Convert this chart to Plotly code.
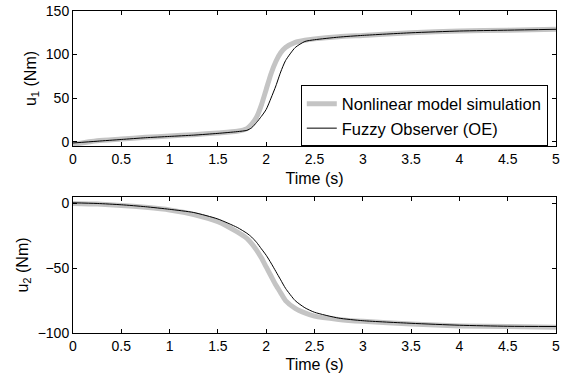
import plotly.graph_objects as go
from plotly.subplots import make_subplots

# Time samples (s)
time_s = [0, 0.25, 0.5, 0.75, 1.0, 1.25, 1.5, 1.7, 1.8, 1.85, 1.9, 1.95, 2.0,
          2.05, 2.1, 2.15, 2.2, 2.3, 2.4, 2.5, 2.75, 3.0, 3.5, 4.0, 4.5, 5.0]

# u1 (Nm)
u1_nonlinear = [-3, 1, 3, 5, 6.5, 8, 10, 12, 15, 20, 28, 42, 60,
                78, 92, 102, 108, 114, 116.5, 118, 120.5, 122, 125, 127, 128, 129]
u1_observer = [-1.5, 0.5, 2.5, 4.5, 6, 7.5, 9.5, 11.5, 13, 16, 22, 29, 37,
               50, 64, 80, 93, 108, 115, 117, 120, 122, 125, 127, 128, 129]

# u2 (Nm)
u2_nonlinear = [0, -0.5, -1.5, -3, -5, -8.5, -14, -22, -27, -31, -36, -42, -49,
                -56, -63, -69, -75, -81, -84.5, -87, -89.5, -91, -93, -94.5, -95, -95.5]
u2_observer = [0.5, 0, -1, -2.5, -4.5, -7, -12, -18.5, -23, -26, -30, -35, -40,
               -46, -52.5, -59, -65.5, -75, -80.5, -84, -88.5, -90.5, -92.5, -94, -94.8, -95]

x_ticks = [0, 0.5, 1, 1.5, 2, 2.5, 3, 3.5, 4, 4.5, 5]
x_ticklabels = ["0", "0.5", "1", "1.5", "2", "2.5", "3", "3.5", "4", "4.5", "5"]
u1_ticks = [0, 50, 100, 150]
u2_ticks = [-100, -50, 0]

names = ["Nonlinear model simulation", "Fuzzy Observer (OE)"]

FONT = "Liberation Sans, Arial, sans-serif"
GRAY = "#c4c4c4"

fig = make_subplots(rows=2, cols=1)

fig.add_trace(go.Scatter(x=time_s, y=u1_nonlinear, mode="lines", name=names[0],
                         line=dict(color=GRAY, width=5, shape="spline", smoothing=0.6)),
              row=1, col=1)
fig.add_trace(go.Scatter(x=time_s, y=u1_observer, mode="lines", name=names[1],
                         line=dict(color="#000000", width=1, shape="spline", smoothing=0.6)),
              row=1, col=1)
fig.add_trace(go.Scatter(x=time_s, y=u2_nonlinear, mode="lines", showlegend=False,
                         line=dict(color=GRAY, width=5, shape="spline", smoothing=0.6)),
              row=2, col=1)
fig.add_trace(go.Scatter(x=time_s, y=u2_observer, mode="lines", showlegend=False,
                         line=dict(color="#000000", width=1, shape="spline", smoothing=0.6)),
              row=2, col=1)

axis_common = dict(showline=True, linecolor="black", linewidth=1, mirror="ticks",
                   ticks="inside", ticklen=4, tickcolor="black", showgrid=False,
                   zeroline=False, automargin=False, ticklabeloverflow="allow",
                   tickfont=dict(family=FONT, size=14, color="black"))

for r in (1, 2):
    fig.update_xaxes(range=[0, 5.0001], tickvals=x_ticks, ticktext=x_ticklabels,
                     title=dict(text="Time (s)", font=dict(family=FONT, size=16, color="black"),
                                standoff=6),
                     row=r, col=1, **axis_common)

fig.update_yaxes(range=[-5, 150], tickvals=u1_ticks,
                 title=dict(text="u<sub>1</sub> (Nm)", font=dict(family=FONT, size=16, color="black"),
                            standoff=5),
                 row=1, col=1, **axis_common)
fig.update_yaxes(range=[-100, 5], tickvals=u2_ticks,
                 title=dict(text="u<sub>2</sub> (Nm)", font=dict(family=FONT, size=16, color="black"),
                            standoff=5),
                 row=2, col=1, **axis_common)

fig.update_layout(
    width=563, height=385,
    margin=dict(l=73, r=7, t=11, b=52),
    paper_bgcolor="white", plot_bgcolor="white",
    xaxis=dict(domain=[0, 1]), xaxis2=dict(domain=[0, 1]),
    yaxis=dict(domain=[0.5807, 1.0]), yaxis2=dict(domain=[0.0, 0.4224]),
    legend=dict(x=0.983, y=0.674, xanchor="right", yanchor="middle",
                bgcolor="white", bordercolor="black", borderwidth=1,
                font=dict(family=FONT, size=16.5, color="black"),
                tracegroupgap=0, itemwidth=30),
    font=dict(family=FONT, color="black"),
)

# remove the default page margin so the figure fills the window exactly
fig.write_html("out.html",
               config={"displayModeBar": False},
               post_script="document.body.style.margin='0px';document.body.style.padding='0px';")
